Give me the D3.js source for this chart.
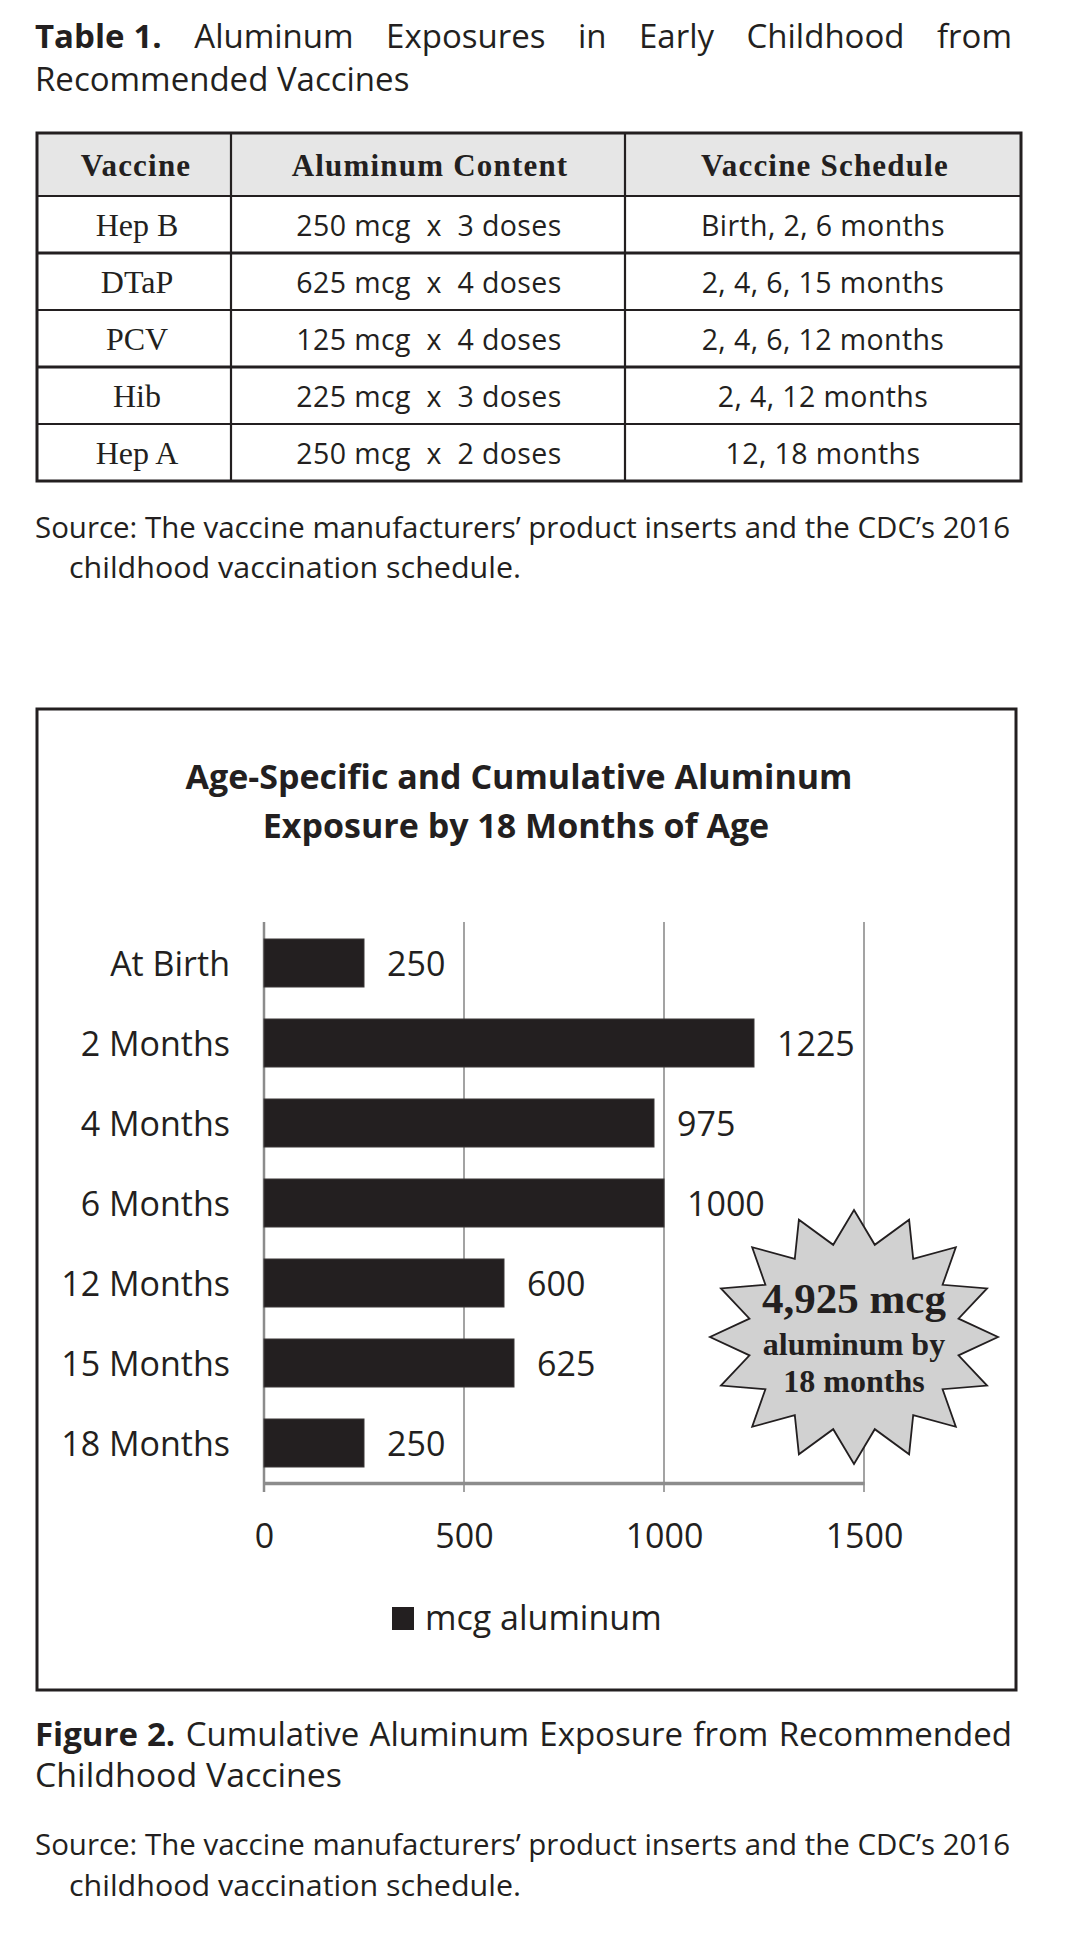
<!DOCTYPE html>
<html>
<head>
<meta charset="utf-8">
<script src="https://cdn.jsdelivr.net/npm/d3@7"></script>
<style>
  body { margin: 0; background: #fff; }
  svg { display: block; }
  .sans { font-family: "Open Sans", sans-serif; fill: #231f20; }
  .serif { font-family: "Liberation Serif", "Times New Roman", serif; fill: #231f20; }
</style>
</head>
<body>
<div class="page"></div>
<script>
// table data
const tableHeaders = ["Vaccine", "Aluminum Content", "Vaccine Schedule"];
const vaccines = ["Hep B", "DTaP", "PCV", "Hib", "Hep A"];
const contents = ["250 mcg  x  3 doses", "625 mcg  x  4 doses", "125 mcg  x  4 doses", "225 mcg  x  3 doses", "250 mcg  x  2 doses"];
const schedules = ["Birth, 2, 6 months", "2, 4, 6, 15 months", "2, 4, 6, 12 months", "2, 4, 12 months", "12, 18 months"];

// chart data
const ages = ["At Birth", "2 Months", "4 Months", "6 Months", "12 Months", "15 Months", "18 Months"];
const aluminum = [250, 1225, 975, 1000, 600, 625, 250];
const xTicks = [0, 500, 1000, 1500];
const seriesName = "mcg aluminum";

const sourceLines = ["Source: The vaccine manufacturers\u2019 product inserts and the CDC\u2019s 2016", "childhood vaccination schedule."];

const W = 1080, H = 1960;
const ink = "#231f20";

const svg = d3.select(".page").append("svg")
  .attr("width", W)
  .attr("height", H)
  .attr("viewBox", [0, 0, W, H]);

// caption line: bold lead ("Table" "1.") then the rest, word-spaced to fill x0..x1
function caption(lead, num, rest, x0, x1, y, size) {
  const leadGap = 9;
  const t = svg.append("text").attr("class", "sans")
    .attr("x", x0).attr("y", y).attr("font-size", size);
  t.append("tspan").attr("font-weight", "bold").text(lead);
  t.append("tspan").attr("font-weight", "bold").attr("dx", leadGap).text(num);
  const r = t.append("tspan").text(rest);
  const natural = t.node().getComputedTextLength() + leadGap;
  const gaps = rest.split(" ").length - 1;
  r.attr("word-spacing", (x1 - x0 - natural) / gaps);
  return t;
}

/* ---------- Table 1 caption ---------- */
caption("Table", "1.", " Aluminum Exposures in Early Childhood from", 35, 1012, 48, 33);
svg.append("text").attr("class", "sans")
  .attr("x", 35).attr("y", 91).attr("font-size", 33)
  .text("Recommended Vaccines");

/* ---------- Table ---------- */
const colEdges = [37, 231, 625, 1021];
const rowY = d3.scaleLinear().domain([0, 1]).range([196, 253]); // row i top
const tTop = 133, hdrBottom = 196;
const rowsBottom = rowY(vaccines.length);

const table = svg.append("g");
table.append("rect")
  .attr("x", colEdges[0]).attr("y", tTop)
  .attr("width", colEdges[3] - colEdges[0]).attr("height", hdrBottom - tTop)
  .attr("fill", "#e6e6e6");

// horizontal rules
table.selectAll(".hrule")
  .data(d3.range(vaccines.length))
  .join("line")
  .attr("class", "hrule")
  .attr("x1", colEdges[0]).attr("x2", colEdges[3])
  .attr("y1", i => rowY(i)).attr("y2", i => rowY(i))
  .attr("stroke", ink).attr("stroke-width", (d, i) => i % 2 ? 3 : 2.2);

// vertical rules
table.selectAll(".vrule")
  .data(colEdges.slice(1, 3))
  .join("line")
  .attr("class", "vrule")
  .attr("x1", d => d).attr("x2", d => d)
  .attr("y1", tTop).attr("y2", rowsBottom)
  .attr("stroke", ink).attr("stroke-width", 2.2);

table.append("rect")
  .attr("x", colEdges[0]).attr("y", tTop)
  .attr("width", colEdges[3] - colEdges[0]).attr("height", rowsBottom - tTop)
  .attr("fill", "none").attr("stroke", ink).attr("stroke-width", 3);

const colMid = i => (colEdges[i] + colEdges[i + 1]) / 2;

table.selectAll(".hdr")
  .data(tableHeaders)
  .join("text")
  .attr("class", "hdr serif")
  .attr("x", (d, i) => colMid(i) + 2)
  .attr("y", 176)
  .attr("text-anchor", "middle")
  .attr("font-size", 31)
  .attr("font-weight", "bold")
  .attr("letter-spacing", 1.2)
  .text(d => d);

const rows = vaccines.map((v, i) => ({ v, c: contents[i], s: schedules[i], i }));
const rowG = table.selectAll(".row")
  .data(rows)
  .join("g")
  .attr("class", "row")
  .attr("transform", d => `translate(0,${(rowY(d.i) + rowY(d.i + 1)) / 2 + 11})`);

rowG.append("text").attr("class", "serif")
  .attr("x", colMid(0) + 3).attr("text-anchor", "middle")
  .attr("font-size", 32)
  .text(d => d.v);
rowG.append("text").attr("class", "sans")
  .attr("x", colMid(1) + 1).attr("text-anchor", "middle")
  .attr("font-size", 28.5)
  .attr("letter-spacing", 0.4)
  .style("white-space", "pre")
  .text(d => d.c);
rowG.append("text").attr("class", "sans")
  .attr("x", colMid(2)).attr("text-anchor", "middle")
  .attr("font-size", 28.5)
  .attr("letter-spacing", 0.4)
  .text(d => d.s);

// table source
svg.append("text").attr("class", "sans")
  .attr("x", 35).attr("y", 538).attr("font-size", 29)
  .attr("textLength", 975).attr("lengthAdjust", "spacingAndGlyphs")
  .text(sourceLines[0]);
svg.append("text").attr("class", "sans")
  .attr("x", 69).attr("y", 578).attr("font-size", 29)
  .attr("textLength", 452).attr("lengthAdjust", "spacingAndGlyphs")
  .text(sourceLines[1]);

/* ---------- Figure 2 chart ---------- */
const box = { x: 37, y: 709, w: 979, h: 981 };
svg.append("rect")
  .attr("x", box.x).attr("y", box.y)
  .attr("width", box.w).attr("height", box.h)
  .attr("fill", "#fff").attr("stroke", ink).attr("stroke-width", 3);

svg.append("text").attr("class", "sans")
  .attr("x", 519).attr("y", 789)
  .attr("text-anchor", "middle").attr("font-size", 34).attr("font-weight", "bold")
  .text("Age-Specific and Cumulative Aluminum");
svg.append("text").attr("class", "sans")
  .attr("x", 516).attr("y", 838)
  .attr("text-anchor", "middle").attr("font-size", 34).attr("font-weight", "bold")
  .text("Exposure by 18 Months of Age");

const x = d3.scaleLinear().domain([0, 1500]).range([264, 864]);
const y = d3.scaleBand().domain(ages).range([923, 1483]).paddingInner(0.4).paddingOuter(0.2);
const axisY = 1483;

// gridlines
svg.append("g")
  .selectAll("line")
  .data(xTicks)
  .join("line")
  .attr("x1", d => x(d)).attr("x2", d => x(d))
  .attr("y1", 922).attr("y2", axisY + 9)
  .attr("stroke", "#8c8c8c").attr("stroke-width", d => d === 0 ? 2.5 : 1.6);

// x axis
const xAxis = svg.append("g")
  .attr("transform", `translate(0,${axisY})`)
  .call(d3.axisBottom(x).tickValues(xTicks).tickSize(0).tickPadding(41).tickFormat(d3.format("d")));
xAxis.select(".domain").attr("stroke", "#8c8c8c").attr("stroke-width", 3.5);
xAxis.selectAll("text")
  .attr("font-family", "Open Sans, sans-serif")
  .attr("font-size", 34)
  .attr("fill", ink);

// bars
svg.append("g")
  .selectAll("rect")
  .data(aluminum)
  .join("rect")
  .attr("x", x(0))
  .attr("y", (d, i) => y(ages[i]))
  .attr("width", d => x(d) - x(0))
  .attr("height", y.bandwidth())
  .attr("fill", ink)
  .attr("stroke", "#3a3637").attr("stroke-width", 1);

// value labels
svg.append("g")
  .selectAll("text")
  .data(aluminum)
  .join("text")
  .attr("class", "sans")
  .attr("x", d => x(d) + 23)
  .attr("y", (d, i) => y(ages[i]) + y.bandwidth() / 2 + 13)
  .attr("font-size", 34)
  .text(d => d);

// category labels
svg.append("g")
  .selectAll("text")
  .data(ages)
  .join("text")
  .attr("class", "sans")
  .attr("x", 230)
  .attr("y", d => y(d) + y.bandwidth() / 2 + 13)
  .attr("text-anchor", "end")
  .attr("font-size", 34)
  .text(d => d);

// legend
svg.append("rect")
  .attr("x", 392).attr("y", 1607).attr("width", 22).attr("height", 23)
  .attr("fill", ink);
svg.append("text").attr("class", "sans")
  .attr("x", 425).attr("y", 1630).attr("font-size", 34)
  .text(seriesName);

// starburst callout
const star = { cx: 854, cy: 1337, rx: 144, ry: 127, n: 16, inner: 0.74 };
const starPts = d3.range(star.n * 2).map(k => {
  const a = -Math.PI / 2 + k * Math.PI / star.n;
  const r = k % 2 ? star.inner : 1;
  return [star.cx + Math.cos(a) * star.rx * r, star.cy + Math.sin(a) * star.ry * r];
});
svg.append("path")
  .attr("d", d3.line()(starPts) + "Z")
  .attr("fill", "#d1d1d1")
  .attr("stroke", ink).attr("stroke-width", 1.8)
  .attr("stroke-linejoin", "miter");

const total = d3.sum(aluminum);
const starText = [
  { t: d3.format(",")(total) + " mcg", s: 43, dy: -24 },
  { t: "aluminum by", s: 32, dy: 18 },
  { t: "18 months", s: 32, dy: 55 }
];
svg.append("g")
  .selectAll("text")
  .data(starText)
  .join("text")
  .attr("class", "serif")
  .attr("x", star.cx)
  .attr("y", d => star.cy + d.dy)
  .attr("text-anchor", "middle")
  .attr("font-weight", "bold")
  .attr("font-size", d => d.s)
  .text(d => d.t);

/* ---------- Figure 2 caption ---------- */
caption("Figure", "2.", " Cumulative Aluminum Exposure from Recommended", 35, 1012, 1746, 33);
svg.append("text").attr("class", "sans")
  .attr("x", 35).attr("y", 1787).attr("font-size", 33)
  .attr("textLength", 307).attr("lengthAdjust", "spacingAndGlyphs")
  .text("Childhood Vaccines");

svg.append("text").attr("class", "sans")
  .attr("x", 35).attr("y", 1855).attr("font-size", 29)
  .attr("textLength", 975).attr("lengthAdjust", "spacingAndGlyphs")
  .text(sourceLines[0]);
svg.append("text").attr("class", "sans")
  .attr("x", 69).attr("y", 1896).attr("font-size", 29)
  .attr("textLength", 452).attr("lengthAdjust", "spacingAndGlyphs")
  .text(sourceLines[1]);
</script>
</body>
</html>
